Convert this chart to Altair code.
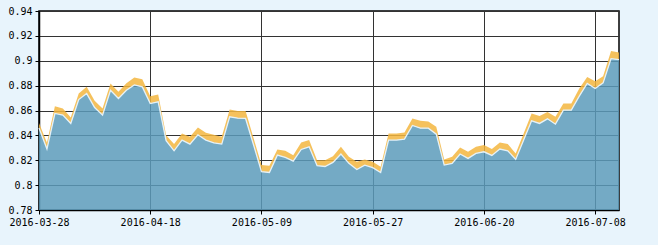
import altair as alt
import pandas as pd

dates = (
    ["2016-03-28", "2016-03-29", "2016-03-30", "2016-03-31",
     "2016-04-01", "2016-04-05", "2016-04-06", "2016-04-07", "2016-04-08",
     "2016-04-11", "2016-04-12", "2016-04-13", "2016-04-14", "2016-04-15",
     "2016-04-18", "2016-04-19", "2016-04-20", "2016-04-21", "2016-04-22",
     "2016-04-25", "2016-04-26", "2016-04-27", "2016-04-28", "2016-04-29",
     "2016-05-03", "2016-05-04", "2016-05-05", "2016-05-06",
     "2016-05-09", "2016-05-10", "2016-05-11", "2016-05-12", "2016-05-13",
     "2016-05-16", "2016-05-17", "2016-05-18", "2016-05-19", "2016-05-20",
     "2016-05-23", "2016-05-24", "2016-05-25", "2016-05-26", "2016-05-27",
     "2016-05-30", "2016-05-31", "2016-06-01", "2016-06-02", "2016-06-03",
     "2016-06-06", "2016-06-07", "2016-06-08",
     "2016-06-13", "2016-06-14", "2016-06-15", "2016-06-16", "2016-06-17",
     "2016-06-20", "2016-06-21", "2016-06-22", "2016-06-23", "2016-06-24",
     "2016-06-27", "2016-06-28", "2016-06-29", "2016-06-30",
     "2016-07-01", "2016-07-04", "2016-07-05", "2016-07-06", "2016-07-07",
     "2016-07-08", "2016-07-11", "2016-07-12", "2016-07-13"]
)

blue_values = [
    0.846, 0.829, 0.8576, 0.8563, 0.8496, 0.8688, 0.8736, 0.8624, 0.8563, 0.8763,
    0.8696, 0.8763, 0.8806, 0.879, 0.8656, 0.867, 0.8357, 0.8276, 0.8362, 0.833,
    0.8405, 0.8362, 0.834, 0.833, 0.8549, 0.8538, 0.8536, 0.8325, 0.8108, 0.8102,
    0.8241, 0.8223, 0.8193, 0.8287, 0.8308, 0.8156, 0.815, 0.8183, 0.825, 0.8175,
    0.8126, 0.8161, 0.814, 0.8102, 0.8362, 0.8362, 0.837, 0.848, 0.8458, 0.8458,
    0.841, 0.8161, 0.8175, 0.825, 0.8215, 0.8255, 0.8268, 0.8239, 0.829, 0.8276,
    0.8207, 0.8362, 0.8517, 0.8496, 0.8533, 0.849, 0.8603, 0.8603, 0.8715, 0.8817,
    0.8777, 0.8822, 0.9017, 0.9009,
]

orange_values = [
    0.850, 0.834, 0.8635, 0.8616, 0.8544, 0.8736, 0.879, 0.8678, 0.8616, 0.8817,
    0.875, 0.882, 0.8865, 0.8852, 0.8715, 0.8728, 0.8402, 0.833, 0.8415, 0.8389,
    0.8464, 0.8421, 0.8405, 0.8389, 0.8608, 0.8595, 0.8595, 0.8378, 0.8161, 0.8156,
    0.8287, 0.8276, 0.8241, 0.8343, 0.8362, 0.8201, 0.8201, 0.8233, 0.8308, 0.8228,
    0.8188, 0.8207, 0.8188, 0.8148, 0.8415, 0.8415, 0.8423, 0.8536, 0.8517, 0.8512,
    0.8469, 0.8207, 0.8228, 0.8303, 0.8268, 0.8308, 0.8322, 0.829, 0.8343, 0.833,
    0.8255, 0.8415, 0.8576, 0.8555, 0.8587, 0.8549, 0.8656, 0.8656, 0.8777, 0.887,
    0.8835, 0.8876, 0.9079, 0.9066,
]

tick_dates = ["2016-03-28", "2016-04-18", "2016-05-09", "2016-05-27",
              "2016-06-20", "2016-07-08"]
y_ticks = [0.78, 0.80, 0.82, 0.84, 0.86, 0.88, 0.90, 0.92, 0.94]

df = pd.DataFrame({"date": dates, "blue": blue_values, "orange": orange_values})

FONT = "DejaVu Sans Mono"

x_enc = alt.X(
    "date:O",
    sort=None,
    scale=alt.Scale(type="point", padding=0),
    axis=alt.Axis(
        values=tick_dates, labelAngle=0, title=None, grid=True,
        gridColor="#333333", gridWidth=1, gridOpacity=1,
        domainColor="#000000", domainWidth=1.5, tickColor="#000000", tickSize=4,
        labelFont=FONT, labelFontSize=10, labelColor="#000000", labelPadding=3,
        labelBaseline="top", labelOverlap=False,
    ),
)
y_scale = alt.Scale(domain=[0.78, 0.94], zero=False, nice=False)
y_axis = alt.Axis(
    values=y_ticks, tickCount=20, format=".2~f", title=None, grid=True,
    gridColor="#333333", gridWidth=1, gridOpacity=1,
    domainColor="#000000", domainWidth=1.5, tickColor="#000000", tickSize=4,
    labelFont=FONT, labelFontSize=10, labelColor="#000000", labelPadding=3,
    labelOverlap=False, labelFlush=False,
)

base = alt.Chart(df)

blue_area = base.mark_area(color="#5C9BBB", opacity=0.85).encode(
    x=x_enc,
    y=alt.Y("blue:Q", scale=y_scale, axis=y_axis),
    y2=alt.datum(0.78),
)
orange_band = base.mark_area(color="#F3B640", opacity=0.85).encode(
    x=alt.X("date:O", sort=None),
    y=alt.Y("orange:Q"),
    y2=alt.Y2("blue:Q"),
)
blue_line = base.mark_line(color="#E4F1F8", strokeWidth=1.3).encode(
    x=alt.X("date:O", sort=None),
    y=alt.Y("blue:Q"),
)

chart = (
    alt.layer(blue_area, orange_band, blue_line)
    .properties(
        width=580,
        height=199,
        background="#E8F4FC",
        padding={"left": 39, "top": 11, "right": 39, "bottom": 35},
        autosize=alt.AutoSizeParams(type="none"),
    )
    .configure_view(stroke="#000000", strokeWidth=1.5, fill="#FFFFFF")
)

chart.save("out.html", embed_options={"renderer": "svg", "actions": False})
